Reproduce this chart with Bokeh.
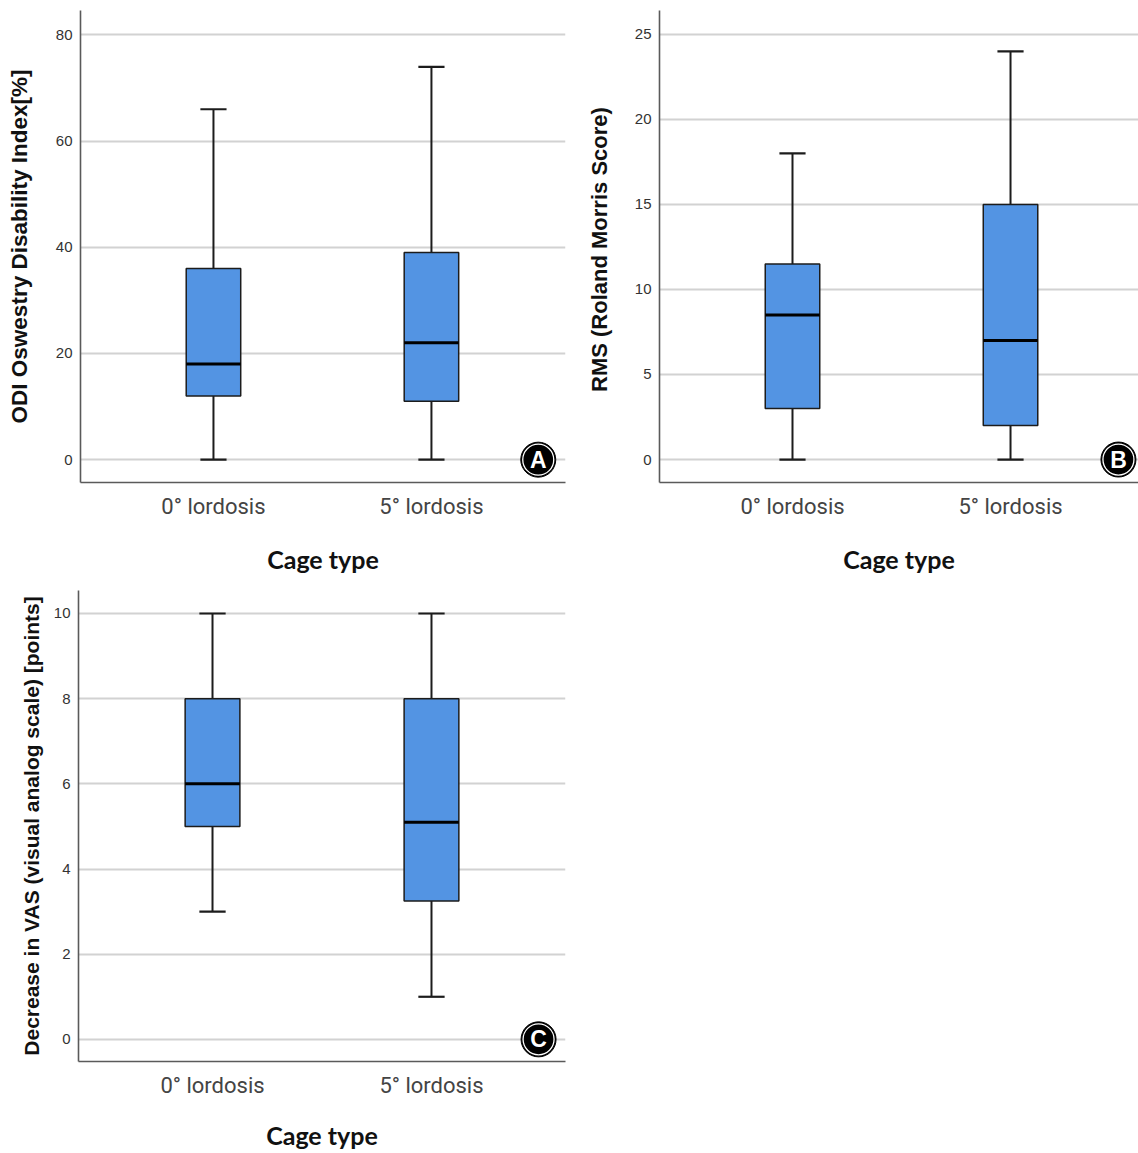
from bokeh.plotting import figure
from bokeh.models import ColumnDataSource, Range1d, FixedTicker
from bokeh.layouts import column, row
from bokeh.embed import file_html
from bokeh.resources import INLINE
from bokeh.core.properties import value

# ---------------- data ----------------
categories = ["0° lordosis", "5° lordosis"]
x_title = "Cage type"

odi_label = "ODI Oswestry Disability Index[%]"
odi_min = [0, 0]
odi_q1 = [12, 11]
odi_median = [18, 22]
odi_q3 = [36, 39]
odi_max = [66, 74]
odi_ticks = [0, 20, 40, 60, 80]

rms_label = "RMS (Roland  Morris Score)"
rms_min = [0, 0]
rms_q1 = [3, 2]
rms_median = [8.5, 7]
rms_q3 = [11.5, 15]
rms_max = [18, 24]
rms_ticks = [0, 5, 10, 15, 20, 25]

vas_label = "Decrease in VAS (visual analog scale) [points]"
vas_min = [3, 1]
vas_q1 = [5, 3.25]
vas_median = [6, 5.1]
vas_q3 = [8, 8]
vas_max = [10, 10]
vas_ticks = [0, 2, 4, 6, 8, 10]

# ---------------- styling ----------------
BOX_FILL = "#5394e3"
BOX_LINE = "#1c1c1c"
GRID = "#d2d2d2"
AXIS = "#5a5a5a"
BOX_W = 0.25
CAP_W = 0.12


def panel(ylabel, mins, q1, med, q3, maxs, ticks, y_rng, x_rng, badge, badge_dx,
          width, height, bl, br, bt, bb, ylab_size, ylab_standoff, xlab_standoff):
    xs = list(range(len(categories)))
    src = ColumnDataSource(dict(
        x=xs,
        xl=[x - BOX_W / 2 for x in xs], xr=[x + BOX_W / 2 for x in xs],
        cl=[x - CAP_W / 2 for x in xs], cr=[x + CAP_W / 2 for x in xs],
        lo=mins, q1=q1, med=med, q3=q3, hi=maxs,
    ))
    p = figure(width=width, height=height, output_backend="svg",
               toolbar_location=None, x_range=Range1d(*x_rng),
               y_range=Range1d(*y_rng), min_border_left=bl,
               min_border_right=br, min_border_top=bt, min_border_bottom=bb)
    p.outline_line_color = None
    p.background_fill_color = "white"
    p.border_fill_color = "white"
    p.xgrid.grid_line_color = None
    p.ygrid.grid_line_color = GRID
    p.ygrid.grid_line_width = 2
    p.yaxis.ticker = FixedTicker(ticks=ticks)
    p.xaxis.ticker = FixedTicker(ticks=xs)
    p.xaxis.major_label_overrides = {i: c for i, c in enumerate(categories)}
    for ax in (p.xaxis[0], p.yaxis[0]):
        ax.axis_line_color = AXIS
        ax.axis_line_width = 1.6
        ax.major_tick_line_color = None
        ax.minor_tick_line_color = None
        ax.major_tick_out = 0
        ax.major_tick_in = 0
    p.yaxis.major_label_text_font = "Liberation Sans"
    p.yaxis.major_label_text_font_size = "15px"
    p.yaxis.major_label_text_color = "#333333"
    p.yaxis.major_label_standoff = 8
    p.yaxis.axis_label = ylabel
    p.yaxis.axis_label_text_font = "Liberation Sans"
    p.yaxis.axis_label_text_font_style = "bold"
    p.yaxis.axis_label_text_font_size = ylab_size
    p.yaxis.axis_label_text_color = "#111111"
    p.yaxis.axis_label_standoff = ylab_standoff

    p.xaxis.major_label_text_font = "Roboto"
    p.xaxis.major_label_text_font_size = "22px"
    p.xaxis.major_label_text_color = "#444444"
    p.xaxis.major_label_standoff = 11
    p.xaxis.axis_label = x_title
    p.xaxis.axis_label_text_font = "Lato"
    p.xaxis.axis_label_text_font_style = "bold"
    p.xaxis.axis_label_text_font_size = "25px"
    p.xaxis.axis_label_text_color = "#111111"
    p.xaxis.axis_label_standoff = xlab_standoff

    # whiskers
    p.segment(x0="x", x1="x", y0="q3", y1="hi", source=src,
              line_color=BOX_LINE, line_width=2)
    p.segment(x0="x", x1="x", y0="lo", y1="q1", source=src,
              line_color=BOX_LINE, line_width=2)
    p.segment(x0="cl", x1="cr", y0="hi", y1="hi", source=src,
              line_color=BOX_LINE, line_width=2.2)
    p.segment(x0="cl", x1="cr", y0="lo", y1="lo", source=src,
              line_color=BOX_LINE, line_width=2.2)
    # boxes
    p.quad(left="xl", right="xr", bottom="q1", top="q3", source=src,
           fill_color=BOX_FILL, line_color=BOX_LINE, line_width=1.5)
    # medians
    p.segment(x0="xl", x1="xr", y0="med", y1="med", source=src,
              line_color="black", line_width=3)

    # panel badge (annotation near the right end of the zero line)
    bx = [x_rng[1] - badge_dx]
    by = [ticks[0]]
    p.scatter(x=bx, y=by, size=35, fill_color="black", line_color="black",
              line_width=1)
    p.scatter(x=bx, y=by, size=31, fill_color="black", line_color="white",
              line_width=1.3)
    p.text(x=bx, y=by, text=[badge], text_align="center",
           text_baseline="middle", text_color="white",
           text_font=value("Liberation Sans"), text_font_size="23px",
           text_font_style="bold")
    return p


pA = panel(odi_label, odi_min, odi_q1, odi_median, odi_q3, odi_max, odi_ticks,
           (-4.3, 84.6), (-0.61, 1.615), "A", 0.125,
           580, 582, 80, 15, 10, 100, "22.5px", 21, 22)
pB = panel(rms_label, rms_min, rms_q1, rms_median, rms_q3, rms_max, rms_ticks,
           (-1.35, 26.4), (-0.61, 1.587), "B", 0.092,
           558, 582, 79, 0, 10, 100, "22px", 20, 22)
pC = panel(vas_label, vas_min, vas_q1, vas_median, vas_q3, vas_max, vas_ticks,
           (-0.52, 10.54), (-0.612, 1.612), "C", 0.123,
           580, 571, 78, 15, 8, 92, "21px", 8, 19)

layout = column(row(pA, pB), pC)
open("out.html", "w").write(file_html(layout, INLINE))
